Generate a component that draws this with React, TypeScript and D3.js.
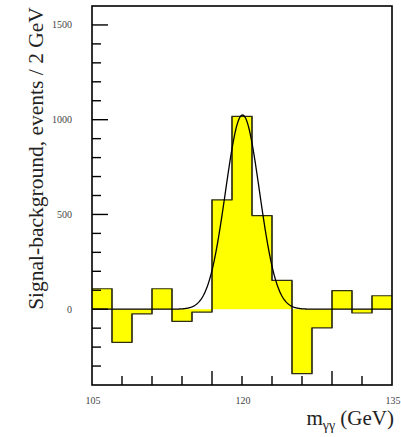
import React from "react";
import * as d3 from "d3";

// histogram: lower bin edges (GeV) and signal-background counts per 2 GeV
const binEdges = [105, 107, 109, 111, 113, 115, 117, 119, 121, 123, 125, 127, 129, 131, 133];
const binValues = [108, -175, -25, 108, -64, -15, 577, 1018, 494, 152, -340, -99, 98, -20, 71];
const binWidth = 2;

// gaussian fit drawn over the histogram
const fitAmplitude = 1025;
const fitMean = 120.05;
const fitSigma = 1.7;
const fitBackground = 0;

const yMajorTicks = [0, 500, 1000, 1500];
const yMinorTicks = [-300, -200, -100, 100, 200, 300, 400, 600, 700, 800, 900, 1100, 1200, 1300, 1400];
const xTicks = [108, 111, 114, 117, 120, 123, 126, 129, 132];
const xLongTicks = [117, 129];
const xLabels = [105, 120, 135];

const W = 401;
const H = 437;
const FONT = "'Liberation Serif', 'Times New Roman', serif";

const App = () => {
  const x = d3.scaleLinear().domain([105, 135]).range([92, 392]);
  const y = d3.scaleLinear().domain([-400, 1600]).range([385, 6]);

  // bars filled from zero
  const bins = binEdges.map((e, i) => ({ x0: e, x1: e + binWidth, v: binValues[i] }));

  // step outline
  const stepPts: [number, number][] = [];
  bins.forEach((b) => {
    stepPts.push([b.x0, b.v]);
    stepPts.push([b.x1, b.v]);
  });
  const stepLine = d3.line<[number, number]>()
    .x((d) => x(d[0]))
    .y((d) => y(d[1]));

  const fit = (m: number) =>
    fitBackground + fitAmplitude * Math.exp(-((m - fitMean) ** 2) / (2 * fitSigma * fitSigma));
  const fitPts: [number, number][] = d3.range(105, 135.001, 0.05).map((m) => [m, fit(m)]);
  const fitLine = d3.line<[number, number]>()
    .x((d) => x(d[0]))
    .y((d) => y(d[1]))
    .curve(d3.curveLinear);

  const [xl, xr] = x.range();
  const [yb, yt] = y.range();

  return (
    <div style={{ position: "absolute", left: 0, top: 0 }}>
      <svg width={W} height={H} style={{ display: "block", background: "#fff" }}>
        {/* filled bins */}
        {bins.map((b, i) => (
          <rect
            key={i}
            x={x(b.x0)}
            width={x(b.x1) - x(b.x0)}
            y={Math.min(y(b.v), y(0))}
            height={Math.abs(y(b.v) - y(0))}
            fill="#ffff00"
          />
        ))}
        <path d={stepLine(stepPts) || ""} fill="none" stroke="#2e2e14" strokeWidth={1.2} />
        {/* vertical edges between bins */}
        {bins.slice(1).map((b, i) => (
          <line
            key={"v" + i}
            x1={x(b.x0)}
            x2={x(b.x0)}
            y1={y(bins[i].v)}
            y2={y(b.v)}
            stroke="#2e2e14"
            strokeWidth={1.2}
          />
        ))}
        <path d={fitLine(fitPts) || ""} fill="none" stroke="#000" strokeWidth={1.3} />

        {/* frame */}
        <rect x={xl} y={yt} width={xr - xl} height={yb - yt} fill="none" stroke="#000" strokeWidth={1.6} />

        {/* y ticks */}
        {yMajorTicks.map((t) => (
          <g key={"ym" + t}>
            <line x1={xl} x2={xl + 16} y1={y(t)} y2={y(t)} stroke="#000" strokeWidth={1.4} />
            <text
              x={72}
              y={y(t)}
              dy="0.35em"
              textAnchor="end"
              fontFamily={FONT}
              fontSize={10}
              fill="#444"
            >
              {t}
            </text>
          </g>
        ))}
        {yMinorTicks.map((t) => (
          <line key={"yn" + t} x1={xl} x2={xl + 9} y1={y(t)} y2={y(t)} stroke="#000" strokeWidth={1.4} />
        ))}

        {/* x ticks */}
        {xTicks.map((t) => (
          <line
            key={"xt" + t}
            x1={x(t)}
            x2={x(t)}
            y1={yb}
            y2={yb - (xLongTicks.includes(t) ? 14 : 9)}
            stroke="#000"
            strokeWidth={1.4}
          />
        ))}
        {xLabels.map((t) => (
          <text
            key={"xl" + t}
            x={x(t) + 1}
            y={404}
            textAnchor="middle"
            fontFamily={FONT}
            fontSize={10}
            fill="#444"
          >
            {t}
          </text>
        ))}

        {/* axis titles */}
        <text
          transform={`translate(43,158.5) rotate(-90)`}
          textAnchor="middle"
          fontFamily={FONT}
          fontSize={21.5}
          fill="#222"
        >
          Signal-background, events / 2 GeV
        </text>
        <text x={394} y={425} textAnchor="end" fontFamily={FONT} fontSize={21} fill="#222">
          m
          <tspan fontSize={14} dy={5}>γγ</tspan>
          <tspan dy={-5}> (GeV)</tspan>
        </text>
      </svg>
    </div>
  );
};

export default App;
